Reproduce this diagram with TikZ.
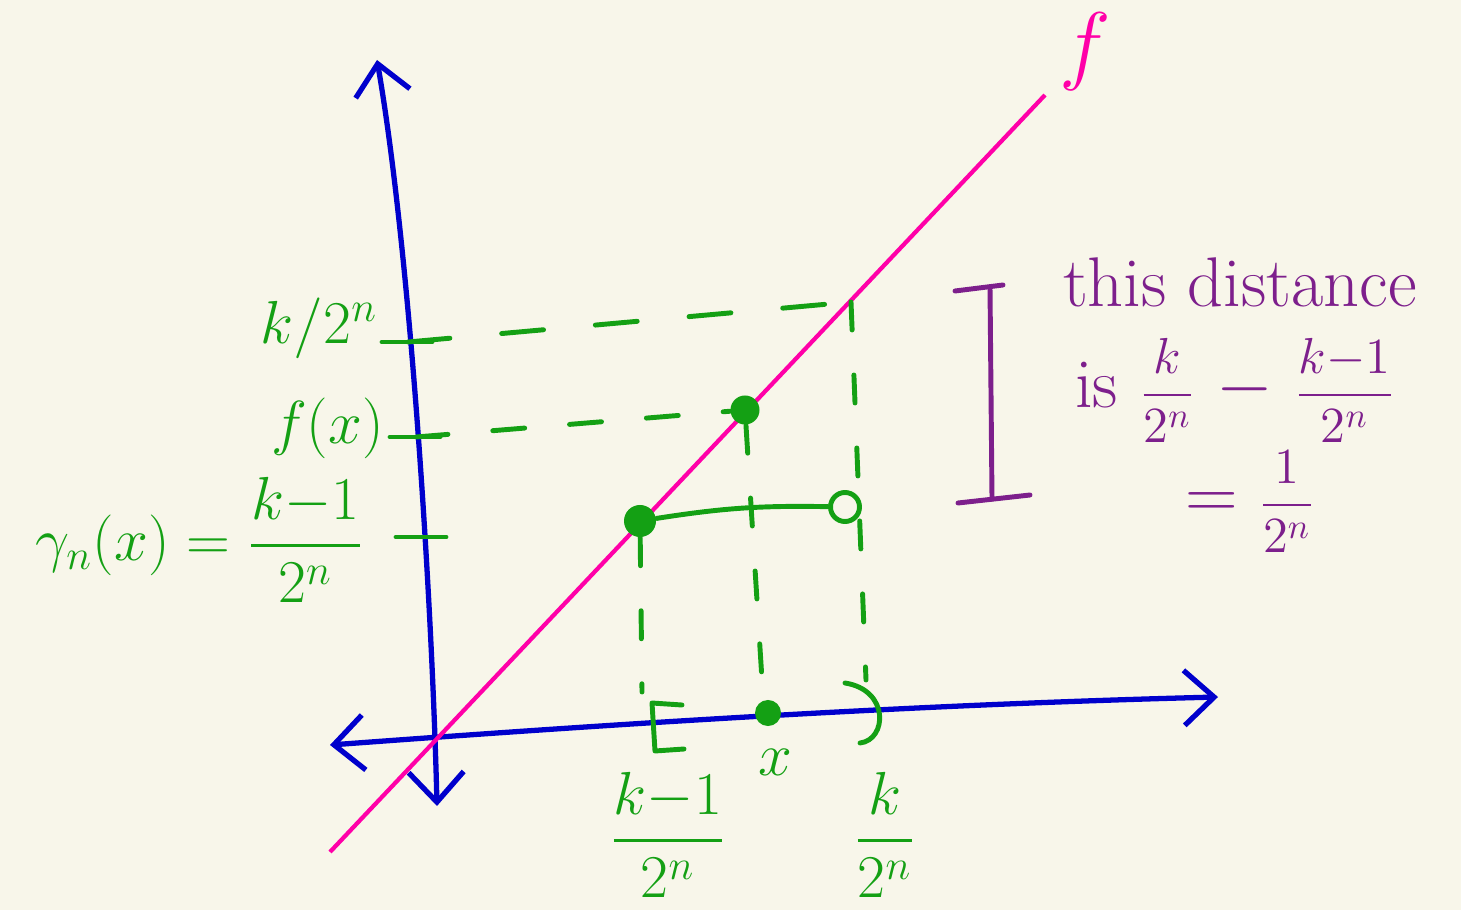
\documentclass[tikz,border=0pt]{standalone}
\usepackage{amsmath}
\usepackage{xcolor}
\usepackage{tikz}
\usetikzlibrary{arrows.meta,positioning}
\definecolor{sketchbg}{HTML}{F8F6EA}
\definecolor{axisblue}{HTML}{0000CC}
\definecolor{fpink}{HTML}{FF00A8}
\definecolor{markgreen}{HTML}{14A014}
\definecolor{notepurple}{HTML}{7D1F8C}
\newcommand{\smallfrac}[2]{{\fontsize{14}{17}\selectfont$\dfrac{#1}{#2}$}}
\tikzset{
  axisline/.style={draw=axisblue,line width=1.5pt,line cap=round,{Straight Barb[length=3mm,width=5.5mm]}-{Straight Barb[length=3mm,width=5.5mm]}},
  fcurve/.style={draw=fpink,line width=1.2pt},
  ymark/.style={draw=markgreen,line width=1.4pt,line cap=round},
  hguide/.style={ymark,dash pattern=on 0.42cm off 0.52cm},
  fxguide/.style={ymark,dash pattern=on 0.32cm off 0.45cm},
  vguide/.style={ymark,dash pattern=on 0.28cm off 0.45cm},
  gdot/.style={circle,fill=markgreen,inner sep=0pt,minimum size=3mm},
  hole/.style={circle,draw=markgreen,line width=1.4pt,fill=sketchbg,inner sep=0pt,minimum size=2.9mm},
  glabel/.style={text=markgreen,font=\fontsize{18}{22}\selectfont,inner sep=1pt},
  plabel/.style={text=notepurple,font=\fontsize{20}{24}\selectfont,inner sep=1pt},
  ibar/.style={draw=notepurple,line width=1.4pt,line cap=round},
}
\begin{document}
\begin{tikzpicture}[x=0.01cm,y=-0.01cm]
  \fill[sketchbg] (0,0) rectangle (1461,910);
  \useasboundingbox (0,0) rectangle (1461,910);

  % axes
  \coordinate (ybot) at (437,806);
  \coordinate (ytop) at (377,60);
  \coordinate (xleft) at (330,745);
  \coordinate (xright) at (1218,697);
  \draw[axisline] (ybot) .. controls (432,600) and (410,250) .. (ytop);
  \draw[axisline] (xleft) .. controls (600,725) and (900,705) .. (xright);

  % the function f
  \coordinate (fstart) at (330,852);
  \coordinate (fend) at (1045,95);
  \draw[fcurve] (fstart) -- (fend);
  \node[text=fpink,font=\fontsize{26}{30}\selectfont] (flabel) at (1085,52) {$f$};

  % ticks on the vertical axis
  \coordinate (tk) at (408,342);
  \coordinate (tfx) at (416,437);
  \coordinate (tk1) at (422,537);
  \foreach \t in {tk,tfx,tk1}
    \draw[ymark] (\t) ++(-26,0) -- ++(50,0);

  % points
  \coordinate (pk) at (851,302);
  \node[gdot,minimum size=3.2mm] (pk1) at (640,521) {};
  \node[gdot,minimum size=2.9mm] (pfx) at (745,410) {};
  \node[hole] (pko) at (845,507) {};
  \node[gdot,minimum size=2.6mm] (px) at (768,713) {};

  % guides
  \draw[hguide] (tk) -- (pk);
  \draw[fxguide] (tfx) -- (pfx);
  \coordinate (bk) at (866,680);
  \coordinate (bfx) at (762,680);
  \coordinate (bk1) at (642,692);
  \draw[vguide] (pk) -- (bk);
  \draw[vguide] (pfx) -- (bfx);
  \draw[vguide] (pk1) -- (bk1);
  \draw[ymark] (pk1) to[bend left=5] (pko);

  % interval [ )
  \draw[ymark,line join=round] (682,705) -- (652,703) -- (655,751) -- (684,749);
  \draw[ymark] (845,683) .. controls (890,690) and (887,740) .. (860,743);

  % labels on the axes
  \node[glabel,anchor=east] (lk) at (382,328) {$k/2^n$};
  \node[glabel,anchor=east] (lfx) at (388,428) {$f(x)$};
  \node[glabel,anchor=east] (lgamma) at (368,540) {$\gamma_n(x)=\dfrac{k{-}1}{2^n}$};
  \node[glabel] (lx) at (775,762) {$x$};
  \node[glabel] (lk1b) at (668,835) {$\dfrac{k{-}1}{2^n}$};
  \node[glabel] (lkb) at (885,835) {$\dfrac{k}{2^n}$};

  % the distance note
  \coordinate (itop) at (990,288);
  \coordinate (ibot) at (992,499);
  \draw[ibar] (itop) -- (ibot);
  \draw[ibar] (955,291) -- (1003,285);
  \draw[ibar] (958,503) -- (1030,495);
  \node[plabel] (nthis) at (1240,282) {this distance};
  \node[plabel] (nis) at (1235,390) {is \smallfrac{k}{2^n} $-$ \smallfrac{k{-}1}{2^n}};
  \node[plabel] (neq) at (1250,502) {$=$ \smallfrac{1}{2^n}};
\end{tikzpicture}
\end{document}
